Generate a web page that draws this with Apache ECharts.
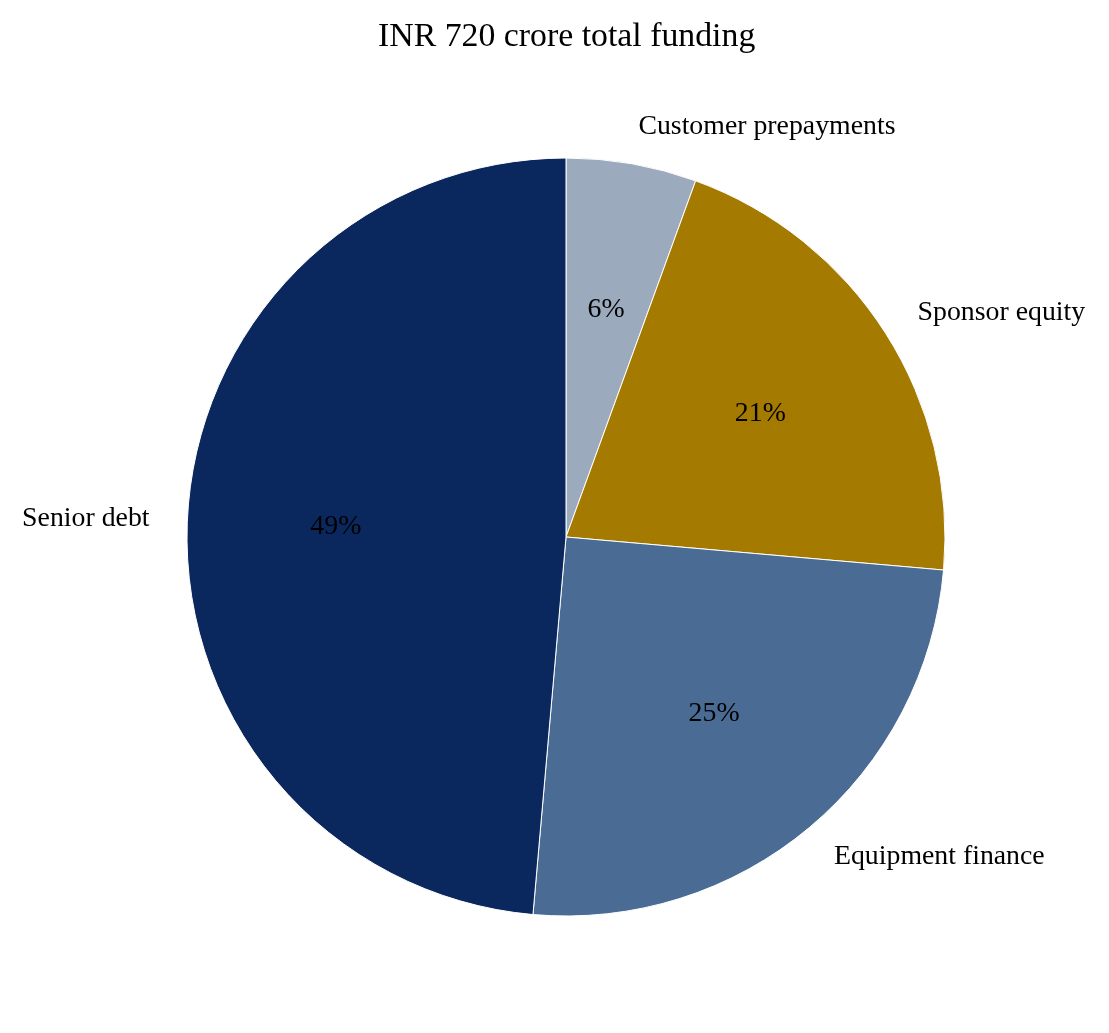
<!DOCTYPE html>
<html>
<head>
<meta charset="utf-8">
<style>html,body{margin:0;padding:0;background:#fff;}#chart{width:1109px;height:1033px;}</style>
<script src="https://cdn.jsdelivr.net/npm/echarts@6/dist/echarts.min.js"></script>
</head>
<body>
<div id="chart"></div>
<script>
const titleText = 'INR 720 crore total funding';
const categories = ['Customer prepayments', 'Sponsor equity', 'Equipment finance', 'Senior debt'];
const values = [40, 150, 180, 350];
const colors = ['#9caabd', '#a57a00', '#4a6b94', '#0a285e'];

const total = values.reduce((a, b) => a + b, 0);
const R = 379;
const font = 'Liberation Serif, Times New Roman, serif';
const data = categories.map((c, i) => ({ name: c, value: values[i], itemStyle: { color: colors[i] } }));

const chart = echarts.init(document.getElementById('chart'));
chart.setOption({
  backgroundColor: '#fff',
  animation: false,
  title: {
    text: titleText, left: 373, top: 15,
    textStyle: { fontFamily: font, fontSize: 33.8, fontWeight: 'normal', color: '#000' }
  },
  series: [
    {
      type: 'pie', center: [566, 537], radius: [0, R], startAngle: 90, clockwise: true,
      avoidLabelOverlap: false, silent: true,
      itemStyle: { borderColor: '#fff', borderWidth: 1 },
      label: {
        show: true, position: 'outside', distanceToLabelLine: 0,
        fontFamily: font, fontSize: 27.8, color: '#000', formatter: '{b}'
      },
      labelLine: { show: false, length: R * 0.1, length2: 0 },
      data: data
    },
    {
      type: 'pie', center: [566, 537], radius: [0, R * 1.2], startAngle: 90, clockwise: true,
      avoidLabelOverlap: false, silent: true,
      itemStyle: { color: 'rgba(0,0,0,0)', borderWidth: 0 },
      label: {
        show: true, position: 'inside',
        fontFamily: font, fontSize: 27.8, color: '#000',
        formatter: p => Math.round(p.value / total * 100) + '%'
      },
      labelLine: { show: false },
      data: categories.map((c, i) => ({ name: c, value: values[i] }))
    }
  ]
});
</script>
</body>
</html>
